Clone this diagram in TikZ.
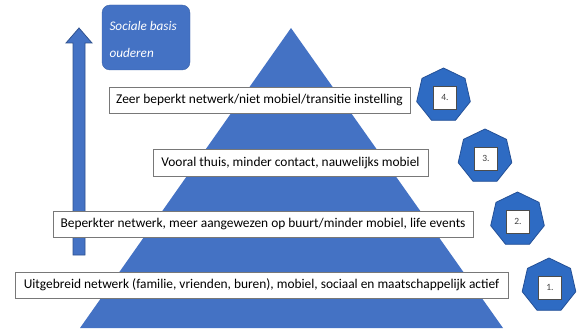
\documentclass[tikz,border=0pt]{standalone}
\usepackage{fontspec}
\setmainfont{Carlito}
\usetikzlibrary{shapes.geometric}
\definecolor{triblue}{RGB}{68,114,196}
\definecolor{heptblue}{RGB}{46,107,195}
\definecolor{heptedge}{RGB}{36,80,150}
\definecolor{arredge}{RGB}{47,82,143}
\definecolor{boxedge}{RGB}{120,120,120}
\tikzset{
  levelbox/.style={draw=boxedge, line width=0.8pt, fill=white, inner sep=0pt, font=\fontsize{13.4}{15}\selectfont, text=black},
  heptagon/.style={regular polygon, regular polygon sides=7, minimum size=55pt, inner sep=0pt, fill=heptblue, draw=heptedge, line width=0.8pt},
  numbox/.style={draw=black!70, line width=0.5pt, fill=white, minimum size=23pt, inner sep=0pt, font=\fontsize{9.5}{10}\selectfont, text=black!75},
  basisbox/.style={fill=triblue, draw=triblue!85!black, line width=0.4pt, rounded corners=8pt, minimum width=88pt, minimum height=65pt, inner sep=0pt},
  basistext/.style={anchor=base west, text=white, font=\fontsize{13.2}{15}\selectfont\itshape}
}
\begin{document}
\begin{tikzpicture}[x=1pt,y=-1pt]
\useasboundingbox (0,0) rectangle (579,329);
% pyramid
\fill[triblue] (291,28) -- (80,328) -- (503,328) -- cycle;
% up arrow
\draw[fill=triblue, draw=arredge, line width=0.8pt]
  (73,255) -- (73,43) -- (66,43) -- (79,28) -- (92,43) -- (85,43) -- (85,255) -- cycle;
% Sociale basis box
\node[basisbox] (basis) at (146,37.5) {};
\node[basistext] (basis1) at (106,31) {Sociale basis};
\node[basistext] (basis2) at (106,58) {ouderen};
% level boxes
\node[levelbox, minimum width=301pt, minimum height=26pt] (l4) at (259.5,100) {Zeer beperkt netwerk/niet mobiel/transitie instelling};
\node[levelbox, minimum width=275pt, minimum height=27pt] (l3) at (290.5,162.5) {Vooral thuis, minder contact, nauwelijks mobiel};
\node[levelbox, minimum width=420pt, minimum height=26pt] (l2) at (263,224) {Beperkter netwerk, meer aangewezen op buurt/minder mobiel, life events};
\node[levelbox, minimum width=493pt, minimum height=26pt] (l1) at (261.5,285) {Uitgebreid netwerk (familie, vrienden, buren), mobiel, sociaal en maatschappelijk actief};
% heptagons
\node[heptagon] (h4) at (443.5,95.5) {};
\node[numbox] (n4) at (445,97.5) {4.};
\node[heptagon] (h3) at (485,156.5) {};
\node[numbox] (n3) at (486,158.5) {3.};
\node[heptagon] (h2) at (517.5,219.5) {};
\node[numbox] (n2) at (518,221.5) {2.};
\node[heptagon] (h1) at (549,285.5) {};
\node[numbox] (n1) at (550,287.5) {1.};
\end{tikzpicture}
\end{document}
